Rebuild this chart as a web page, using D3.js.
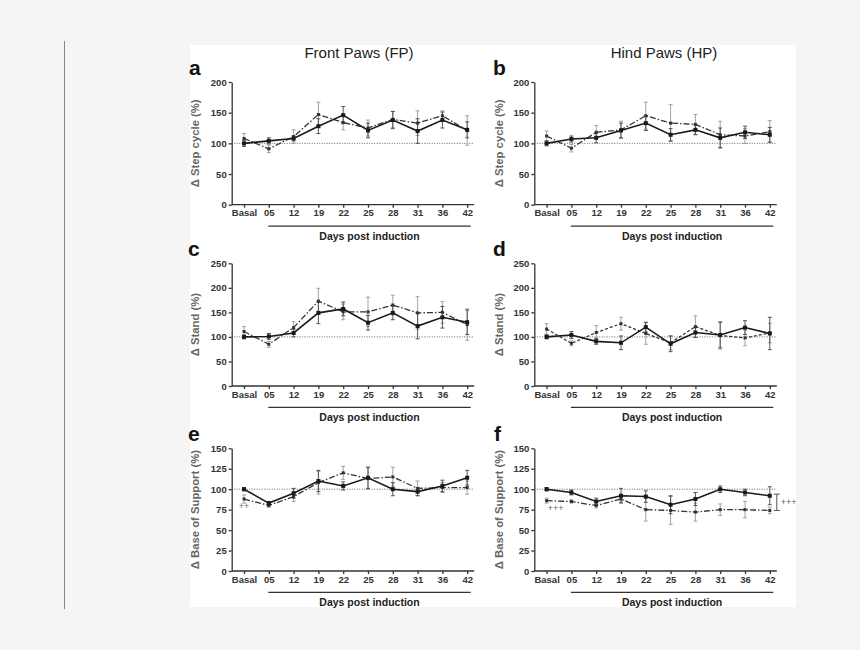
<!DOCTYPE html>
<html>
<head>
<meta charset="utf-8">
<script src="https://cdn.jsdelivr.net/npm/d3@7"></script>
<style>
  body { margin: 0; background: #f5f5f5; }
  svg { display: block; }
  text { font-family: "Liberation Sans", Arial, sans-serif; }
</style>
</head>
<body>
<svg id="chart" width="860" height="650"></svg>
<script>
// x categories (days post induction)
const days = ["Basal", "05", "12", "19", "22", "25", "28", "31", "36", "42"];

// a - Front paws, step cycle
const aSolid      = [100, 104, 108, 128, 146, 121, 138, 120, 138, 122];
const aSolidErr   = [5, 5, 4, 12, 14, 12, 14, 20, 13, 13];
const aDashed     = [108, 91, 111, 147, 134, 125, 139, 133, 145, 121];
const aDashedErr  = [8, 6, 11, 20, 12, 13, 13, 20, 8, 24];

// b - Hind paws, step cycle
const bSolid      = [100, 107, 109, 121, 133, 114, 122, 109, 118, 114];
const bSolidErr   = [4, 5, 8, 12, 12, 10, 8, 16, 10, 12];
const bDashed     = [112, 92, 118, 122, 145, 133, 131, 114, 112, 119];
const bDashedErr  = [8, 6, 11, 14, 22, 30, 16, 22, 12, 18];

// c - Front paws, stand
const cSolid      = [100, 101, 108, 149, 157, 129, 149, 122, 140, 130];
const cSolidErr   = [4, 6, 8, 22, 14, 15, 14, 26, 22, 25];
const cDashed     = [111, 85, 119, 173, 151, 151, 165, 149, 150, 125];
const cDashedErr  = [10, 6, 12, 26, 16, 30, 20, 33, 22, 32];

// d - Hind paws, stand
const dSolid      = [100, 104, 91, 88, 120, 86, 109, 104, 119, 107];
const dSolidErr   = [4, 7, 6, 14, 10, 16, 10, 26, 14, 33];
const dDashed     = [116, 87, 109, 127, 107, 88, 121, 103, 98, 108];
const dDashedErr  = [11, 5, 14, 13, 22, 14, 22, 28, 16, 20];

// e - Front paws, base of support
const eSolid      = [100, 83, 95, 110, 104, 114, 100, 97, 104, 114];
const eSolidErr   = [2, 2, 6, 13, 5, 13, 8, 5, 7, 9];
const eDashed     = [88, 80, 91, 108, 120, 113, 115, 101, 102, 102];
const eDashedErr  = [5, 2, 6, 14, 8, 13, 12, 9, 6, 8];

// f - Hind paws, base of support
const fSolid      = [100, 96, 85, 92, 91, 81, 88, 100, 96, 92];
const fSolidErr   = [2, 3, 4, 9, 7, 11, 8, 4, 4, 11];
const fDashed     = [86, 85, 80, 88, 75, 74, 72, 75, 75, 74];
const fDashedErr  = [3, 2, 3, 4, 14, 17, 11, 7, 10, 4];

const stepTicks = [0, 50, 100, 150, 200];
const standTicks = [0, 50, 100, 150, 200, 250];
const supportTicks = [0, 25, 50, 75, 100, 125, 150];

const svg = d3.select("#chart");

// page furniture
svg.append("line")
  .attr("x1", 64.5).attr("x2", 64.5).attr("y1", 41).attr("y2", 609)
  .attr("stroke", "#888").attr("stroke-width", 1);
svg.append("rect")
  .attr("x", 190).attr("y", 45).attr("width", 606).attr("height", 562)
  .attr("fill", "#fff");

svg.append("text").attr("x", 359).attr("y", 58).attr("text-anchor", "middle")
  .attr("font-size", 15).attr("fill", "#222").text("Front Paws (FP)");
svg.append("text").attr("x", 664).attr("y", 58).attr("text-anchor", "middle")
  .attr("font-size", 15).attr("fill", "#222").text("Hind Paws (HP)");

const PLOT_H = 122.7;
const AXIS_W = 242.5;

const panels = [
  { letter: "a", ax: 231.7, base: 204.7, ymax: 200, ticks: stepTicks, label: "\u0394 Step cycle (%)", lx: 195, letterX: 189, solid: aSolid, solidErr: aSolidErr, dashed: aDashed, dashedErr: aDashedErr, dash: "6,2,1.5,2" },
  { letter: "b", ax: 534.3, base: 204.7, ymax: 200, ticks: stepTicks, label: "\u0394 Step cycle (%)", lx: 499, letterX: 493, solid: bSolid, solidErr: bSolidErr, dashed: bDashed, dashedErr: bDashedErr, dash: "6,2,1.5,2" },
  { letter: "c", ax: 231.7, base: 386, ymax: 250, ticks: standTicks, label: "\u0394 Stand (%)", lx: 195, letterX: 188, solid: cSolid, solidErr: cSolidErr, dashed: cDashed, dashedErr: cDashedErr, dash: "6,2,1.5,2" },
  { letter: "d", ax: 534.3, base: 386, ymax: 250, ticks: standTicks, label: "\u0394 Stand (%)", lx: 499, letterX: 493, solid: dSolid, solidErr: dSolidErr, dashed: dDashed, dashedErr: dDashedErr, dash: "3,2" },
  { letter: "e", ax: 231.7, base: 571, ymax: 150, ticks: supportTicks, label: "\u0394 Base of Support (%)", lx: 195, letterX: 188, solid: eSolid, solidErr: eSolidErr, dashed: eDashed, dashedErr: eDashedErr, dash: "6,2,1.5,2" },
  { letter: "f", ax: 534.3, base: 571, ymax: 150, ticks: supportTicks, label: "\u0394 Base of Support (%)", lx: 499, letterX: 494, solid: fSolid, solidErr: fSolidErr, dashed: fDashed, dashedErr: fDashedErr, dash: "6,2,1.5,2" }
];

function drawPanel(p) {
  const g = svg.append("g");
  const x = d3.scalePoint().domain(days).range([p.ax + 12.3, p.ax + 12.3 + 223.2]);
  const y = d3.scaleLinear().domain([0, p.ymax]).range([p.base, p.base - PLOT_H]);
  p.x = x; p.y = y; p.g = g;

  // panel letter
  g.append("text").attr("x", p.letterX).attr("y", p.base - PLOT_H - 7.5)
    .attr("font-size", 21).attr("font-weight", "bold").attr("fill", "#111").text(p.letter);

  // axes
  const ya = g.append("g").attr("transform", `translate(${p.ax},0)`)
    .call(d3.axisLeft(y).tickValues(p.ticks).tickSize(3).tickSizeOuter(0).tickPadding(2));
  const xa = g.append("g").attr("transform", `translate(0,${p.base})`)
    .call(d3.axisBottom(x).tickSize(3).tickSizeOuter(0).tickPadding(2));
  xa.select(".domain").attr("d", `M${p.ax},0H${p.ax + AXIS_W}`);
  [ya, xa].forEach(a => {
    a.selectAll(".domain, .tick line").attr("stroke", "#333").attr("stroke-width", 1.3);
    a.selectAll(".tick text").attr("font-family", "Liberation Sans, Arial, sans-serif")
      .attr("font-size", 9.5).attr("font-weight", "bold").attr("fill", "#333");
  });

  // y label
  g.append("text")
    .attr("transform", `translate(${p.lx},${p.base - PLOT_H / 2}) rotate(-90)`)
    .attr("text-anchor", "middle").attr("dy", "0.35em")
    .attr("font-size", 11.3).attr("font-weight", "bold").attr("fill", "#666")
    .text(p.label);

  // "Days post induction" bar
  const x0 = x("05") - 0.5, x1 = x("42") + 3.5;
  g.append("line").attr("x1", x0).attr("x2", x1)
    .attr("y1", p.base + 21.4).attr("y2", p.base + 21.4)
    .attr("stroke", "#333").attr("stroke-width", 1.4);
  g.append("text").attr("x", (x0 + x1) / 2).attr("y", p.base + 35)
    .attr("text-anchor", "middle").attr("font-size", 10.5).attr("font-weight", "bold")
    .attr("fill", "#222").text("Days post induction");

  // 100 % reference line
  g.append("line").attr("x1", p.ax).attr("x2", p.ax + AXIS_W)
    .attr("y1", y(100)).attr("y2", y(100))
    .attr("stroke", "#555").attr("stroke-width", 0.9).attr("stroke-dasharray", "1,1.5");

  const series = [
    { vals: p.dashed, err: p.dashedErr, errColor: "#999", lineColor: "#333", width: 1.3, dash: p.dash, size: 3 },
    { vals: p.solid, err: p.solidErr, errColor: "#444", lineColor: "#1a1a1a", width: 1.6, dash: null, size: 4 }
  ];

  series.forEach(s => {
    const pts = days.map((d, i) => ({ d: d, v: s.vals[i], e: s.err[i] }));
    const eb = g.append("g").attr("stroke", s.errColor).attr("stroke-width", 0.9);
    pts.forEach(pt => {
      const cx = x(pt.d);
      eb.append("line").attr("x1", cx).attr("x2", cx).attr("y1", y(pt.v - pt.e)).attr("y2", y(pt.v + pt.e));
      eb.append("line").attr("x1", cx - 2).attr("x2", cx + 2).attr("y1", y(pt.v - pt.e)).attr("y2", y(pt.v - pt.e));
      eb.append("line").attr("x1", cx - 2).attr("x2", cx + 2).attr("y1", y(pt.v + pt.e)).attr("y2", y(pt.v + pt.e));
    });
  });

  series.forEach(s => {
    const line = d3.line().x((v, i) => x(days[i])).y(v => y(v));
    g.append("path").datum(s.vals).attr("d", line)
      .attr("fill", "none").attr("stroke", s.lineColor).attr("stroke-width", s.width)
      .attr("stroke-dasharray", s.dash);
    g.selectAll(null).data(s.vals).enter().append("rect")
      .attr("x", (v, i) => x(days[i]) - s.size / 2)
      .attr("y", v => y(v) - s.size / 2)
      .attr("width", s.size).attr("height", s.size)
      .attr("fill", s.lineColor);
  });
}

panels.forEach(drawPanel);

// significance marks
const pe = panels[4], pf = panels[5];
pe.g.append("text").attr("x", pe.x("Basal")).attr("y", pe.y(79.5)).attr("dy", "0.35em")
  .attr("text-anchor", "middle").attr("font-size", 9).attr("fill", "#666").text("++");
pf.g.append("text").attr("x", pf.x("Basal") + 9).attr("y", pf.y(77.4)).attr("dy", "0.35em")
  .attr("text-anchor", "middle").attr("font-size", 9).attr("fill", "#666").text("+++");

const bx = pf.x("42") + 7;
const br = pf.g.append("g").attr("stroke", "#555").attr("stroke-width", 1);
br.append("line").attr("x1", bx).attr("x2", bx).attr("y1", pf.y(94)).attr("y2", pf.y(74));
br.append("line").attr("x1", bx - 3).attr("x2", bx + 3).attr("y1", pf.y(94)).attr("y2", pf.y(94));
br.append("line").attr("x1", bx - 3).attr("x2", bx + 3).attr("y1", pf.y(74)).attr("y2", pf.y(74));
pf.g.append("text").attr("x", bx + 4).attr("y", pf.y(84)).attr("dy", "0.35em")
  .attr("font-size", 9).attr("fill", "#666").text("+++");
</script>
</body>
</html>
